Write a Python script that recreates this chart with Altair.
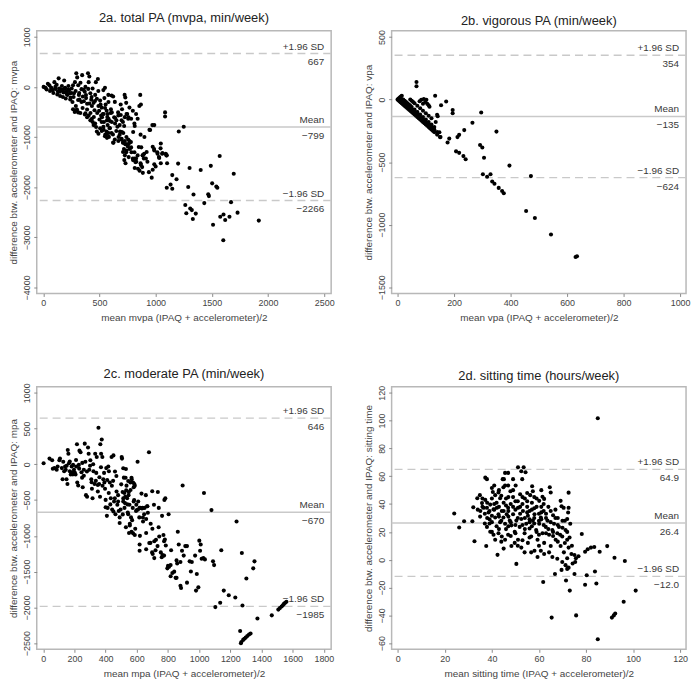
import altair as alt
import pandas as pd

W, H = 297, 265
FONT = "Liberation Sans"

# ---------------- data (mean, difference) ----------------
MVPA_POINTS = [
    (3, 0), (41, 63), (55, 32), (70, -19), (84, -64), (99, 95), (108, 0), (119, 44), (137, 171), (142, -32),
    (148, -96), (166, 19), (172, -64), (186, 127), (195, -19), (206, -96), (215, -159), (224, 19), (230, -64),
    (236, -127), (244, -210), (253, -32), (265, 32), (273, -127), (282, 95), (288, -83), (294, 273), (302, 190),
    (311, 32), (317, -159), (323, -254), (331, 82), (340, -45), (346, 235), (352, -191), (361, -286), (369, -96),
    (375, 0), (381, -223), (390, -337), (398, 273), (404, 95), (410, 209), (419, -127), (427, -254), (433, -381),
    (439, -32), (448, -318), (456, -464), (462, -159), (468, 95), (477, -235), (486, 159), (491, -381),
    (497, -477), (506, -273), (515, -572), (520, -413), (535, -64), (544, -223), (549, -19), (555, -350),
    (564, -477), (573, -540), (579, -159), (593, -680), (602, -445), (608, -172), (622, -191), (631, -604),
    (637, -299), (651, -667), (666, -508), (680, -762), (689, -350), (701, -445), (709, -699), (724, -159),
    (730, -210), (738, -318), (747, -540), (759, -604), (767, -413), (782, -635), (797, -477), (811, -731),
    (826, -540), (840, -635), (855, -381), (863, -159), (869, -350),
    (265, -445), (282, -477), (294, -464), (311, -508), (375, -527), (390, -604), (404, -572), (419, -667),
    (433, -635), (448, -762), (462, -731), (477, -889), (491, -934), (506, -826), (520, -699), (535, -794),
    (549, -985), (564, -889), (573, -762), (584, -997), (593, -826), (608, -921), (622, -1112), (637, -1048),
    (660, -794), (680, -953), (695, -1048), (709, -1112), (718, -1239), (730, -1143), (738, -1302),
    (753, -1188), (767, -1080), (782, -1207), (797, -1429), (811, -1302), (826, -1429), (840, -1366),
    (869, -1556), (884, -1366), (898, -1334), (913, -1429), (927, -1493), (951, -858), (971, -762),
    (986, -1239), (1000, -1588), (1015, -1302), (1029, -1397), (1044, -1226), (1058, -1334), (1096, -1366),
    (1102, -1524),
    (523, -603), (538, -540), (567, -667), (581, -635), (610, -508), (639, -730), (668, -571), (697, -667),
    (726, -603), (741, -540), (756, -635), (814, -781), (866, -952), (945, -857), (988, -762), (538, -857),
    (552, -952), (567, -1016), (581, -921), (625, -1111), (668, -1079), (683, -889), (697, -1035),
    (712, -1111), (726, -1079), (741, -1143), (756, -1048), (770, -1111), (712, -921),
    (974, -1194), (988, -1270), (1017, -1333), (1046, -1130), (1061, -1321), (1090, -1333), (1099, -1365),
    (1032, -1416), (1046, -1524), (988, -1543), (974, -1651), (965, -1810), (872, -1206), (886, -1365),
    (895, -1429), (866, -1524), (886, -1714), (814, -1429), (828, -1492), (799, -1460), (785, -1302),
    (770, -1238), (756, -1143), (741, -1270), (726, -1365), (721, -1460), (732, -1524), (814, -1619),
    (843, -1632), (857, -1670),
    (1084, -508), (1084, -590), (1250, -794), (1206, -889), (1570, -1378), (1695, -1733), (1491, -1575),
    (1401, -1657), (1302, -1619), (1200, -1530), (1148, -1759), (1186, -1841), (1099, -2013), (1133, -1949),
    (1148, -2032), (1290, -1997), (1337, -2146), (1468, -2140), (1474, -2178), (1503, -1924), (1540, -1987),
    (1549, -2013), (1433, -2318), (1671, -2299), (1264, -2356), (1308, -2426), (1322, -2457), (1273, -2521),
    (1357, -2527), (1331, -2635), (1729, -2508), (1575, -2591), (1604, -2546), (1619, -2654), (1657, -2591),
    (1511, -2749), (1602, -3060), (1918, -2667),
    (20, -20), (30, -50), (60, -80), (75, -30), (90, -120), (110, -40), (125, -150), (130, -90), (150, -180),
    (160, -60), (175, -200), (180, -110), (190, -40), (200, -230), (210, -140), (220, -60), (240, -250),
    (250, -120), (260, -300), (270, -200), (280, -500), (290, -380), (300, -450), (310, -260), (320, -120),
    (330, -520), (340, -300), (350, -420), (360, -60), (370, -550), (380, -160), (390, -450), (400, -40),
    (410, -330), (420, -520), (430, -200), (440, -700), (450, -600), (460, -280), (470, -800), (480, -520),
    (490, -80), (500, -650), (510, -350), (520, -880), (530, -540), (540, -700), (550, -420), (560, -950),
    (570, -600), (580, -300), (590, -820), (600, -520), (610, -700), (620, -950), (640, -620), (650, -880),
    (670, -1000), (690, -560), (700, -900), (710, -1300), (720, -780), (740, -1000), (760, -1400),
    (780, -1100), (800, -900), (820, -1500), (850, -1200), (880, -1600), (900, -1000), (920, -1300),
    (940, -1700),
]

VPA_POINTS = [
    (0, 0), (3, -6), (6, -12), (9, -18), (12, -24), (15, -30), (18, -36), (21, -42), (24, -48), (27, -54),
    (30, -60), (34, -68), (38, -76), (42, -84), (46, -92), (50, -100), (55, -110), (60, -120), (65, -130),
    (70, -140), (75, -150), (80, -160), (85, -170), (90, -180), (95, -190), (100, -200), (105, -210),
    (110, -220), (115, -230), (120, -240), (125, -250), (130, -260), (140, -280), (150, -300),
    (3, 6), (6, 12), (9, 18), (12, 24), (15, 30),
    (10, 0), (15, -10), (20, -20), (25, -30), (30, -40), (40, -60), (50, -80), (60, -100), (70, -120),
    (80, -140), (90, -160), (100, -180), (110, -200), (120, -220), (130, -240), (140, -260),
    (33, -54), (36, -48), (39, -42), (63, -114), (66, -108), (69, -102), (93, -174), (96, -168),
    (123, -234), (126, -228),
    (20, 0), (25, -10), (30, -20), (35, -30), (40, -40), (45, -50), (50, -60), (60, -80), (70, -100),
    (80, -120), (90, -140), (100, -160), (110, -180), (120, -200), (130, -220),
    (45, 0), (50, -10), (55, -20), (60, -30), (70, -50), (80, -70), (90, -90), (100, -110), (110, -130),
    (120, -150), (135, -180),
    (67, 140), (67, 107), (84, -2), (93, 5), (98, -20), (105, -33), (110, -46), (90, -33), (78, -13),
    (102, -2), (113, -58), (133, 31), (154, -46), (172, -15), (195, -84), (195, -109), (296, -104),
    (140, -122), (142, -134), (265, -185), (236, -244), (218, -282), (212, -300), (183, -312), (177, -343),
    (207, -414), (218, -426), (233, -452), (241, -477), (152, -300), (148, -261), (350, -256), (292, -363),
    (300, -383), (306, -465), (396, -528), (302, -597), (317, -617), (329, -597), (335, -655), (343, -673),
    (358, -706), (370, -731), (376, -749), (472, -612), (455, -891), (486, -947), (543, -1079),
    (630, -1258), (635, -1252),
]

MPA_POINTS = [
    (2, 14), (40, 80), (57, 58), (61, -62), (71, -53), (86, -75), (92, -31), (103, 58), (107, 80), (119, -53),
    (124, -209), (128, 36), (134, -97), (140, -31), (144, -75), (149, -209), (155, -275), (157, 200),
    (161, 147), (165, 14), (170, -97), (176, -142), (182, -31), (186, -111), (191, -8), (197, -75),
    (203, -120), (207, -142), (211, -31), (216, 280), (218, -253), (224, -297), (228, -8), (232, 191),
    (239, 169), (245, -111), (249, -186), (253, -320), (260, -75), (266, 289), (270, 36), (274, -431),
    (281, -453), (287, 236), (291, 147), (295, -75), (302, 58), (308, -209), (312, -342), (316, -475),
    (322, -97), (329, -275), (333, 147), (337, -231), (343, 103), (350, -289), (354, 511), (358, -275),
    (364, -453), (366, 280), (371, 147), (375, 347), (379, 103), (385, -209), (392, -253), (396, -342),
    (400, -497), (404, -53), (408, -720), (413, -609), (417, -31), (421, -97), (427, -253), (433, -475),
    (438, 103), (442, -631), (448, -231), (450, 125), (454, -520), (459, -475), (463, -697), (469, -164),
    (475, -564), (480, -431), (484, -653), (490, -742), (496, -631), (505, 80), (509, -386), (513, -520),
    (517, -186), (521, -609), (526, -453), (530, -66), (532, -364), (538, -475), (542, -675), (547, -431),
    (553, -564), (559, -253), (563, -742), (567, -209), (574, -609), (580, -320), (584, -275), (595, -653),
    (605, 36), (609, -520), (616, -742), (622, -609), (630, -409), (637, -609), (647, -697), (658, -431),
    (668, -586), (678, 169), (689, -831), (699, -377), (710, -564), (735, -386), (741, -609), (762, -720),
    (777, -497), (783, -475), (804, -697), (894, -297),
    (503, 102), (513, -54), (528, -187), (534, -298), (545, -232), (549, -387), (566, -187), (576, -254),
    (587, -298), (583, -498), (597, -565), (608, -631), (618, -609), (633, -618), (650, -609), (666, -587),
    (671, -676), (639, -743), (660, -765), (513, -476), (524, -542), (545, -698), (555, -831), (566, -943),
    (576, -965), (587, -987), (555, -854), (618, -1120), (618, -1209), (660, -1187), (687, -1098),
    (702, -1254), (712, -1076), (723, -1054), (733, -1143), (744, -1009), (754, -1231), (765, -1267),
    (771, -987), (775, -1076), (786, -1134), (712, -1311), (698, -1231), (775, -1276), (796, -1454),
    (807, -1431), (817, -1409), (828, -1520), (849, -1587), (855, -1343), (859, -1387), (863, -943),
    (869, -1120), (880, -1365), (890, -1209), (901, -1276), (911, -1143), (922, -1143), (939, -1356),
    (947, -1498), (953, -1365), (974, -1276), (985, -1534), (995, -1720), (1001, -1067), (1006, -1209),
    (1010, -1120), (1016, -1320), (1027, -1311), (1037, -1329), (1089, -1356), (1096, -1409), (1142, -1200),
    (880, -1698), (884, -1729), (922, -1654), (980, -1765), (817, -1565), (855, -1587),
    (1031, -400), (1079, -640), (1240, -800), (1274, -1240), (1355, -1356), (1347, -1454), (1303, -1596),
    (1158, -1765), (1190, -1831), (1232, -1862), (1104, -1996), (1135, -1934), (1278, -1974), (1374, -2156),
    (1466, -2111), (1508, -2031), (1518, -2010), (1529, -1987), (1537, -1970), (1544, -1951), (1552, -1935),
    (1560, -1920), (1263, -2329), (1268, -2500), (1271, -2485), (1282, -2454), (1290, -2438), (1299, -2422),
    (1309, -2400), (1320, -2378), (1330, -2365),
    (150, -20), (170, 40), (190, -140), (210, 60), (230, -60), (250, 20), (260, -160), (280, -100), (300, -20),
    (310, -250), (320, 0), (340, -120), (350, -380), (360, -180), (370, -40), (380, -300), (390, -120),
    (400, -600), (410, -220), (420, -400), (430, -560), (440, -300), (450, -660), (460, -100), (470, -380),
    (480, -520), (490, -820), (500, -280), (510, -700), (520, -400), (530, -880), (540, -560), (550, -960),
    (560, -360), (570, -780), (580, -520), (590, -900), (600, -640), (620, -1000), (640, -800), (660, -960),
    (680, -1100), (700, -900), (720, -1200), (740, -880), (760, -1300), (780, -1050), (800, -1420),
    (820, -1200), (840, -1500),
]

SIT_POINTS = [
    (24, 33.2), (28.2, 27.7), (26.1, 23.1), (32.6, 13.3), (37.6, 9.9), (42.4, 3.5), (50.4, -3), (31.7, 27.7),
    (32.1, 37.7), (33.8, 44.2), (34.9, 46.4), (35.8, 40.7), (36.5, 37.3), (35.1, 35), (37.2, 43), (37.9, 57.9),
    (37.2, 59), (40, 51.5), (41, 53.3), (40.4, 48.7), (41.4, 46.4), (42.8, 48.3), (43.5, 44.2), (44.9, 52.1),
    (45.6, 53.3), (44.6, 57.9), (45.6, 62.4), (46.9, 62.4), (45.1, 57.9), (49, 57.9), (51.1, 66.5),
    (52.5, 63.6), (53.5, 66.5), (54.3, 62.9), (46.9, 53.3), (47.9, 49.2), (50.1, 53.3), (52.9, 57.9),
    (57.1, 52.8), (57.4, 49.2), (56.3, 46.4), (64.6, 52.1), (65, 48.3), (61.5, 45.3), (62.2, 43.7),
    (60.1, 42.3), (69.2, 42.3), (69.6, 38.4), (70.5, 37.3), (72.4, 33.9),
    (85, 101.7), (72.6, 48.2), (72.6, 37.3), (72, 29.3), (78.2, 18.5), (79.6, 5.7), (80.7, 7.5), (82.1, 8.7),
    (83.5, 9.1), (85.8, 5.7), (89, 9.8), (92.1, 1.4), (96.5, -0.9), (73.8, 4.1), (75.1, 3.4), (75.7, 1.1),
    (76.8, 2.5), (74.3, -2.7), (75.4, -1.6), (72, 1.1), (71.3, -3.9), (69.6, -7.3), (72, -6.6), (72.6, -5.7),
    (66.8, -10.3), (75.1, -10.3), (80.3, -11.2), (83.8, -8.5), (61.8, -16), (71.5, -14.9), (79.6, -18),
    (84.4, -17.1), (73.1, -22.2), (101.1, -22.2), (96, -30.2), (91.8, -40), (92.4, -38.6), (91, -41.6),
    (65.4, -41.6), (75.8, -40), (85, -57.1),
    (37.9, 37.3), (38.6, 33.9), (39.3, 39.6), (40, 31.6), (40.7, 36.2), (41.4, 30.4), (42.1, 37.3),
    (42.8, 32.7), (43.5, 27), (44.2, 35), (44.9, 30.4), (45.6, 25.9), (46.3, 32.7), (46.9, 37.3), (47.6, 28.1),
    (48.3, 24.7), (49, 32.7), (49.7, 20.1), (50.4, 28.1), (51.1, 37.3), (51.8, 23.6), (52.5, 29.3), (53.2, 35),
    (53.9, 19), (54.6, 25.9), (55.3, 31.6), (56, 22.4), (56.7, 16.7), (57.4, 28.1), (58.1, 32.7), (58.8, 21.3),
    (59.4, 14.4), (60.1, 25.9), (60.8, 30.4), (61.5, 19), (62.2, 12.1), (62.9, 23.6), (63.6, 28.1),
    (64.3, 17.9), (65, 9.9), (65.7, 21.3), (66.4, 25.9), (67.1, 14.4), (67.8, 19), (68.5, 23.6), (69.2, 9.9),
    (69.9, 16.7), (70.6, 5.3), (71.3, 21.3), (72, 14.4), (72.6, 8.7), (73.3, 25.9),
    (37.9, 23.6), (39.3, 20.1), (40.7, 17.9), (41.4, 14.4), (42.8, 19), (44.2, 16.7), (45.6, 14.4),
    (46.9, 17.9), (48.3, 9.9), (49.7, 12.1), (51.1, 14.4), (52.5, 8.7), (53.9, 5.3), (55.3, 12.1), (56.7, 5.3),
    (58.1, 6.4), (59.4, 1.9), (60.8, 6.4), (62.2, 4.1), (64.3, 5.3), (65.7, 1.9), (67.8, 0.7), (69.9, -1.6),
    (36, 38), (37, 33), (38, 41), (39, 29), (40, 44), (41, 36), (42, 41), (43, 38), (44, 46), (45, 41),
    (46, 44), (47, 35), (48, 40), (49, 45), (50, 36), (51, 42), (52, 47), (53, 40), (54, 44), (55, 38),
    (56, 35), (57, 41), (58, 37), (59, 44), (60, 33), (61, 38), (62, 35), (63, 33), (64, 38), (66, 32),
    (67, 36), (68, 30), (70, 28), (39, 26), (43, 22), (47, 24), (50, 19), (54, 22), (58, 26), (61, 29),
    (63, 19), (66, 17), (68, 13), (53, 14), (45, 8), (48, 17), (56, 27), (60, 18), (35, 31), (34, 36),
    (38, 30), (39, 35), (40, 27), (41, 40), (42, 24), (43, 31), (44, 28), (45, 35), (46, 22), (46, 39),
    (47, 31), (48, 27), (49, 38), (50, 25), (50, 42), (51, 30), (52, 33), (53, 25), (53, 45), (54, 30),
    (55, 34), (55, 42), (56, 29), (57, 24), (57, 36), (58, 30), (59, 38), (59, 20), (60, 28), (61, 34),
    (62, 25), (62, 40), (63, 30), (64, 22), (65, 27), (65, 35), (66, 20), (67, 30), (68, 25), (69, 18),
    (70, 23), (71, 28), (71, 12), (72, 20), (73, 16), (74, 10), (36, 44), (37, 26), (40, 20), (43, 50),
    (47, 45), (49, 50), (52, 38), (55, 48), (58, 45), (61, 50), (44, 13), (51, 10), (56, 16), (60, 10),
]

# limits of agreement (upper, mean, lower) and their printed labels
MVPA_LIMITS = [667, -799, -2266]
VPA_LIMITS = [354, -135, -624]
MPA_LIMITS = [646, -670, -1985]
SIT_LIMITS = [64.9, 26.4, -12.0]
MVPA_LABELS = ["667", "\u2212799", "\u22122266"]
VPA_LABELS = ["354", "\u2212135", "\u2212624"]
MPA_LABELS = ["646", "\u2212670", "\u22121985"]
SIT_LABELS = ["64.9", "26.4", "\u221212.0"]
LIMIT_NAMES = ["+1.96 SD", "Mean", "\u22121.96 SD"]

TITLES = ["2a. total PA (mvpa, min/week)", "2b. vigorous PA (min/week)",
          "2c. moderate PA (min/week)", "2d. sitting time (hours/week)"]
X_TITLES = ["mean mvpa (IPAQ + accelerometer)/2", "mean vpa (IPAQ + accelerometer)/2",
            "mean mpa (IPAQ + accelerometer)/2", "mean sitting time (IPAQ + accelerometer)/2"]
Y_TITLES = ["difference btw. accelerometer and IPAQ: mvpa", "difference btw. accelerometer and IPAQ: vpa",
            "difference btw. accelerometer and IPAQ: mpa", "difference btw. accelerometer and IPAQ: sitting time"]

X_TICKS = [[0, 500, 1000, 1500, 2000, 2500], [0, 200, 400, 600, 800, 1000],
           [0, 200, 400, 600, 800, 1000, 1200, 1400, 1600, 1800], [0, 20, 40, 60, 80, 100, 120]]
Y_TICKS = [[-4000, -3000, -2000, -1000, 0, 1000], [-1500, -1000, -500, 0, 500],
           [-2500, -2000, -1500, -1000, -500, 0, 500, 1000], [-60, -40, -20, 0, 20, 40, 60, 80, 100, 120]]
X_DOMAINS = [[-58, 2562], [-21, 1021], [-42, 1847], [-2.6, 122.5]]
Y_DOMAINS = [[-4120, 1120], [-1550, 550], [-2586, 1086], [-64.4, 124.4]]

LINE_COLOR = "#c9c9c9"
TEXT_COLOR = "#3a3a3a"


def panel(i, points, limits, labels):
    pts = pd.DataFrame(points, columns=["x", "y"])
    xs = alt.Scale(domain=X_DOMAINS[i], nice=False, zero=False)
    ys = alt.Scale(domain=Y_DOMAINS[i], nice=False, zero=False)
    xa = alt.Axis(values=X_TICKS[i], title=X_TITLES[i], labelFlush=False, labelOverlap=False, format="d")
    ya = alt.Axis(values=Y_TICKS[i], title=Y_TITLES[i], labelFlush=False, labelOverlap=False, format="d",
                  labelAngle=270, labelAlign="center", labelBaseline="bottom")
    lim = pd.DataFrame({"v": limits, "name": LIMIT_NAMES, "val": labels})

    dashed = alt.Chart(lim).transform_filter(alt.datum.name != "Mean").mark_rule(
        color=LINE_COLOR, strokeWidth=1.4, strokeDash=[8, 5]
    ).encode(y=alt.Y("v:Q", scale=ys, axis=ya))
    solid = alt.Chart(lim).transform_filter(alt.datum.name == "Mean").mark_rule(
        color=LINE_COLOR, strokeWidth=1.4
    ).encode(y=alt.Y("v:Q", scale=ys, axis=ya))
    dots = alt.Chart(pts).mark_circle(size=17, color="black", opacity=1).encode(
        x=alt.X("x:Q", scale=xs, axis=xa), y=alt.Y("y:Q", scale=ys, axis=ya)
    )
    above = alt.Chart(lim).mark_text(
        align="right", baseline="middle", dy=-7, fontSize=10, color=TEXT_COLOR, font=FONT
    ).encode(x=alt.value(W - 7), y=alt.Y("v:Q", scale=ys, axis=ya), text="name:N")
    below = alt.Chart(lim).mark_text(
        align="right", baseline="middle", dy=9, fontSize=10, color=TEXT_COLOR, font=FONT
    ).encode(x=alt.value(W - 7), y=alt.Y("v:Q", scale=ys, axis=ya), text="val:N")

    return alt.layer(dashed, solid, dots, above, below).properties(
        width=W, height=H,
        title=alt.TitleParams(TITLES[i], fontSize=13, fontWeight="normal", color="#222222",
                              font=FONT, anchor="middle", frame="group", offset=2),
    )


pa = panel(0, MVPA_POINTS, MVPA_LIMITS, MVPA_LABELS)
pb = panel(1, VPA_POINTS, VPA_LIMITS, VPA_LABELS)
pc = panel(2, MPA_POINTS, MPA_LIMITS, MPA_LABELS)
pd_ = panel(3, SIT_POINTS, SIT_LIMITS, SIT_LABELS)

chart = alt.vconcat(
    alt.hconcat(pa, pb, spacing=28),
    alt.hconcat(pc, pd_, spacing=28),
    spacing=44,
).properties(
    padding={"left": 0, "top": 0, "right": 0, "bottom": 0}
).configure_view(
    stroke="#b8b8b8", strokeWidth=1.5
).configure_axis(
    grid=False, domain=False, tickColor="#8a8a8a", tickSize=3, tickWidth=1,
    labelFont=FONT, titleFont=FONT, labelFontSize=9, titleFontSize=10,
    labelColor="#444444", titleColor="#444444", titleFontWeight="normal", labelPadding=2,
).configure_axisLeft(
    titlePadding=4
).configure_axisBottom(
    titlePadding=5
)

chart.save("out.html", embed_options={"renderer": "svg", "actions": False})
